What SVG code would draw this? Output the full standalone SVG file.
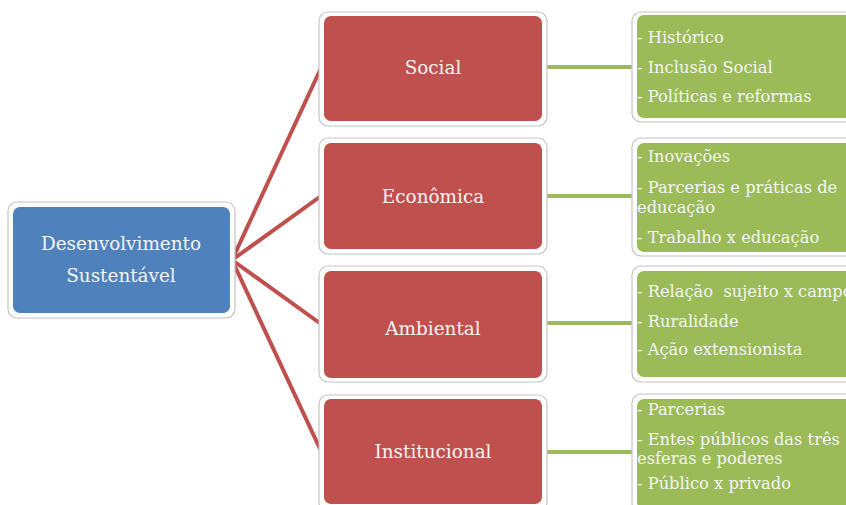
<svg xmlns="http://www.w3.org/2000/svg" width="846" height="505" viewBox="0 0 846 505">
<style>
.frame{fill:#ffffff;stroke:#c4c4c4;stroke-width:1.2}
.blue{fill:#4f81bd}
.red{fill:#c0504d}
.green{fill:#9bbb59}
.lbl{font-family:"DejaVu Serif","Liberation Serif",serif;font-size:18.4px;fill:#f4f4f4;text-anchor:middle}
.item{font-family:"DejaVu Serif","Liberation Serif",serif;font-size:16.3px;fill:#f4f4f4}
.rl{stroke:#c0504d;stroke-width:4;fill:none;stroke-linecap:round}
.gl{stroke:#9bbb59;stroke-width:4;fill:none}
</style>
<rect width="846" height="505" fill="#ffffff"/>
<g id="connectors">
<line class="rl" x1="232" y1="260" x2="321" y2="68"/>
<line class="rl" x1="232" y1="260" x2="321" y2="196"/>
<line class="rl" x1="232" y1="260" x2="321" y2="324"/>
<line class="rl" x1="232" y1="260" x2="321" y2="451"/>
<line class="gl" x1="545" y1="67" x2="634" y2="67"/>
<line class="gl" x1="545" y1="196" x2="634" y2="196"/>
<line class="gl" x1="545" y1="323" x2="634" y2="323"/>
<line class="gl" x1="545" y1="452" x2="634" y2="452"/>
</g>
<g id="root">
<rect class="frame" x="8" y="202" width="227" height="116" rx="9"/>
<rect class="blue" x="13" y="207" width="217" height="106" rx="7"/>
<text class="lbl" x="121" y="250">Desenvolvimento</text>
<text class="lbl" x="121" y="282">Sustentável</text>
</g>
<g id="social">
<rect class="frame" x="319" y="12" width="228" height="114" rx="9"/>
<rect class="red" x="324" y="16" width="218" height="105" rx="7"/>
<text class="lbl" x="433" y="74">Social</text>
</g>
<g id="economica">
<rect class="frame" x="319" y="138" width="228" height="116" rx="9"/>
<rect class="red" x="324" y="143" width="218" height="106" rx="7"/>
<text class="lbl" x="433" y="203">Econômica</text>
</g>
<g id="ambiental">
<rect class="frame" x="319" y="266" width="228" height="116" rx="9"/>
<rect class="red" x="324" y="271" width="218" height="107" rx="7"/>
<text class="lbl" x="433" y="335">Ambiental</text>
</g>
<g id="institucional">
<rect class="frame" x="319" y="395" width="228" height="116" rx="9"/>
<rect class="red" x="324" y="399" width="218" height="105" rx="7"/>
<text class="lbl" x="433" y="458">Institucional</text>
</g>
<g id="social-items">
<rect class="frame" x="632" y="12" width="230" height="110" rx="9"/>
<rect class="green" x="637" y="15" width="225" height="103" rx="7"/>
<text class="item" x="637" y="43">- Histórico</text>
<text class="item" x="637" y="73">- Inclusão Social</text>
<text class="item" x="637" y="102">- Políticas e reformas</text>
</g>
<g id="economica-items">
<rect class="frame" x="632" y="138" width="230" height="118" rx="9"/>
<rect class="green" x="637" y="143" width="225" height="109" rx="7"/>
<text class="item" x="637" y="162">- Inovações</text>
<text class="item" x="637" y="193">- Parcerias e práticas de</text>
<text class="item" x="637" y="213">educação</text>
<text class="item" x="637" y="243">- Trabalho x educação</text>
</g>
<g id="ambiental-items">
<rect class="frame" x="632" y="266" width="230" height="116" rx="9"/>
<rect class="green" x="637" y="271" width="225" height="106" rx="7"/>
<text class="item" x="637" y="297" xml:space="preserve">- Relação  sujeito x campo</text>
<text class="item" x="637" y="327">- Ruralidade</text>
<text class="item" x="637" y="355">- Ação extensionista</text>
</g>
<g id="institucional-items">
<rect class="frame" x="632" y="394" width="230" height="118" rx="9"/>
<rect class="green" x="637" y="399" width="225" height="110" rx="7"/>
<text class="item" x="637" y="415">- Parcerias</text>
<text class="item" x="637" y="445">- Entes públicos das três</text>
<text class="item" x="637" y="464">esferas e poderes</text>
<text class="item" x="637" y="489">- Público x privado</text>
</g>
</svg>
